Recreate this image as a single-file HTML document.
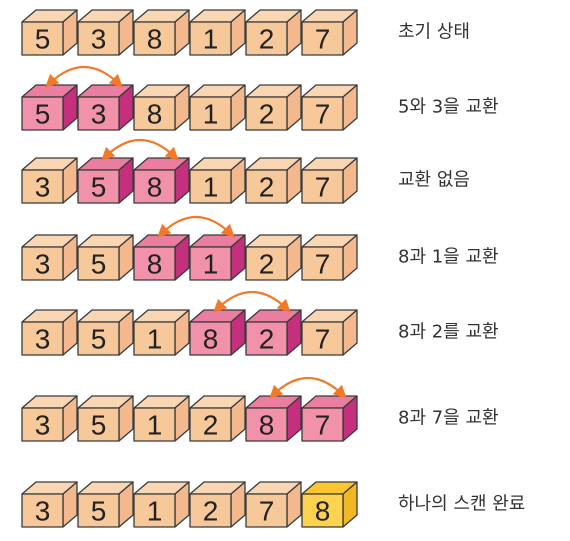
<!DOCTYPE html>
<html><head><meta charset="utf-8"><style>
body{margin:0;background:#fff;width:570px;height:536px;overflow:hidden}
svg text{font-family:"DejaVu Sans","Noto Sans CJK KR",sans-serif}
svg text.d{font-family:"Liberation Sans",sans-serif}
</style></head><body>
<svg id="chart" width="570" height="536" xmlns="http://www.w3.org/2000/svg">
<defs><marker id="ah" viewBox="0 0 10 10" refX="6" refY="5" markerWidth="6" markerHeight="6" orient="auto-start-reverse"><path d="M0,0 L10,5 L0,10 z" fill="#f07a2a"/></marker></defs>
</svg>
<script>
const rowValues=[[5,3,8,1,2,7],[5,3,8,1,2,7],[3,5,8,1,2,7],[3,5,8,1,2,7],[3,5,1,8,2,7],[3,5,1,2,8,7],[3,5,1,2,7,8]];
const rowPairs=[-1,0,1,2,3,4,-1];
const rowLabels=["초기 상태","5와 3을 교환","교환 없음","8과 1을 교환","8과 2를 교환","8과 7을 교환","하나의 스캔 완료"];
const rowTops=[22,97,170,247,322,408,494];
const svg=document.getElementById('chart');
const NS='http://www.w3.org/2000/svg';
const X0=22,PITCH=56,W=41,H=33,DX=14,DY=12;
const pal={o:['#f7c89a','#f9d6b4','#f4b88e'],p:['#f291aa','#ea7ea0','#c4307e'],y:['#fdd24f','#fbc62f','#f2b824']};
function el(t,a){const e=document.createElementNS(NS,t);for(const k in a)e.setAttribute(k,a[k]);return e;}
rowValues.forEach((vals,r)=>{
  const y=rowTops[r];
  const g=el('g',{});
  
  
  svg.appendChild(g);
  vals.forEach((v,i)=>{
    const x=X0+i*PITCH;
    let c=pal.o;
    if(rowPairs[r]>=0&&(i===rowPairs[r]||i===rowPairs[r]+1))c=pal.p;
    if(r===rowValues.length-1&&i===vals.length-1)c=pal.y;
    const cube=el('g',{stroke:'#3a3a3a','stroke-width':'1.3','stroke-linejoin':'round'});
    
    
    cube.appendChild(el('polygon',{points:`${x},${y} ${x+DX},${y-DY} ${x+W+DX},${y-DY} ${x+W},${y}`,fill:c[1]}));
    cube.appendChild(el('polygon',{points:`${x+W},${y} ${x+W+DX},${y-DY} ${x+W+DX},${y+H-DY} ${x+W},${y+H}`,fill:c[2]}));
    cube.appendChild(el('rect',{x:x,y:y,width:W,height:H,fill:c[0]}));
    const t=el('text',{class:'d',x:x+W/2,y:y+H/2+10,'text-anchor':'middle','font-size':'28',fill:'#222',stroke:'none'});
    t.textContent=v;cube.appendChild(t);
    g.appendChild(cube);
  });
  if(rowPairs[r]>=0){
    const i=rowPairs[r];
    const x1=X0+i*PITCH+27, x2=X0+(i+1)*PITCH+41, yy=y-DY-1;
    const a=el('path',{d:`M${x1},${yy} Q${(x1+x2)/2},${yy-34} ${x2},${yy}`,fill:'none',stroke:'#f07a2a','stroke-width':'2.2','marker-start':'url(#ah)','marker-end':'url(#ah)'});
    
    
    g.appendChild(a);
  }
  const lb=el('text',{x:398,y:y+H/2-1,'font-size':'18',fill:'#333'});
  
  
  lb.textContent=rowLabels[r];
  g.appendChild(lb);
});
</script>
</body></html>
